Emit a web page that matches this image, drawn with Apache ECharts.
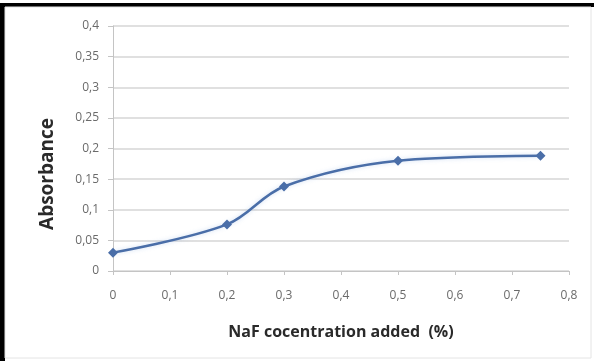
<!DOCTYPE html>
<html>
<head>
<meta charset="utf-8">
<script src="https://cdn.jsdelivr.net/npm/echarts@6/dist/echarts.min.js"></script>
<style>
html,body{margin:0;padding:0;background:#fff;}
#c{width:594px;height:361px;}
</style>
</head>
<body>
<div id="c"></div>
<script>
const xValues = [0, 0.2, 0.3, 0.5, 0.75];
const absorbance = [0.03, 0.076, 0.138, 0.18, 0.188];
const xTicks = [0, 0.1, 0.2, 0.3, 0.4, 0.5, 0.6, 0.7, 0.8];
const yTicks = [0, 0.05, 0.1, 0.15, 0.2, 0.25, 0.3, 0.35, 0.4];
const xTitle = 'NaF cocentration added  (%)';
const yTitle = 'Absorbance';

const fmt = v => String(Math.round(v * 100) / 100).replace('.', ',');
const chart = echarts.init(document.getElementById('c'));
chart.setOption({
  animation: false,
  textStyle: { fontFamily: 'Open Sans' },
  grid: { left: 113, right: 25, top: 26, bottom: 90 },
  graphic: [
    { type: 'rect', shape: { x: 0, y: 3, width: 594, height: 4 }, style: { fill: '#000' }, silent: true },
    { type: 'rect', shape: { x: 0, y: 3, width: 5, height: 358 }, style: { fill: '#000' }, silent: true },
    { type: 'rect', shape: { x: 5, y: 7, width: 586, height: 351 }, style: { fill: 'none', stroke: '#e4e4e4', lineWidth: 1 }, silent: true },
    { type: 'text', x: 48, y: 174, rotation: Math.PI / 2, silent: true,
      style: { text: yTitle, fontSize: 19, fontWeight: 'bold', fill: '#2a2a2a', fontFamily: 'Open Sans',
               align: 'center', verticalAlign: 'middle' } }
  ],
  xAxis: {
    type: 'value', min: 0, max: 0.8, interval: 0.1,
    name: xTitle, nameLocation: 'middle', nameGap: 53,
    nameTextStyle: { fontSize: 16, fontWeight: 'bold', color: '#2a2a2a', fontFamily: 'Open Sans' },
    axisLine: { show: true, lineStyle: { color: '#c4c4c4', width: 1 } },
    axisTick: { show: true, length: 4, inside: false, lineStyle: { color: '#c4c4c4' } },
    axisLabel: { formatter: fmt, color: '#6a6a6a', fontSize: 12, margin: 19 },
    splitLine: { show: false }
  },
  yAxis: {
    type: 'value', min: 0, max: 0.4, interval: 0.05,
    axisLine: { show: true, lineStyle: { color: '#c4c4c4', width: 1 } },
    axisTick: { show: true, length: 5, lineStyle: { color: '#c4c4c4' } },
    axisLabel: { formatter: fmt, color: '#6a6a6a', fontSize: 12, margin: 14 },
    splitLine: { show: true, lineStyle: { color: '#d6d6d6', width: 1.5 } }
  },
  series: [{
    type: 'line',
    data: xValues.map((x, i) => [x, absorbance[i]]),
    smooth: 0.35,
    symbol: 'diamond', symbolSize: 10,
    lineStyle: { color: '#4a6ea8', width: 2.5, shadowColor: 'rgba(120,160,220,0.35)', shadowBlur: 4 },
    itemStyle: { color: '#4a6ea8' }
  }]
});
</script>
</body>
</html>
